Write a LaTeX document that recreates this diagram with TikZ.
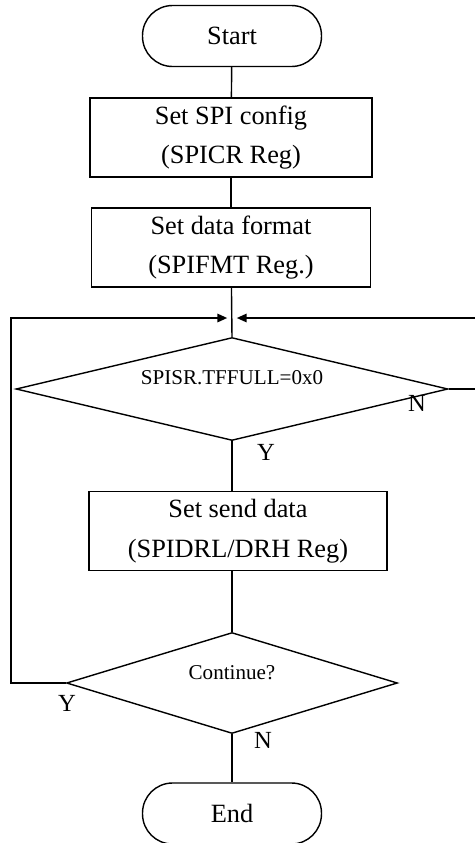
\documentclass[tikz,border=0pt]{standalone}
\usepackage{fontspec}
\setmainfont{Liberation Serif}
\usetikzlibrary{shapes.geometric,arrows.meta}

\begin{document}
\begin{tikzpicture}[x=0.02cm, y=-0.02cm,
    every node/.style={font=\fontsize{15}{22.7}\selectfont},
    termbox/.style={draw, line width=0.8pt, rounded corners=0.6cm, minimum width=3.58cm, minimum height=1.22cm, inner sep=0pt},
    procbox/.style={draw, line width=0.8pt, align=center, minimum height=1.58cm, inner sep=0pt},
    decbox/.style={draw, line width=0.8pt, diamond, inner sep=0pt},
    dectext/.style={font=\fontsize{12}{14}\selectfont, inner sep=0pt},
    tag/.style={font=\fontsize{14}{16}\selectfont, inner sep=0pt},
    flow/.style={line width=0.8pt},
    backline/.style={line width=1.4pt, -{Triangle[length=5.7pt,width=4.6pt]}}]
    \clip (0,0) rectangle (475,843);

    \node[termbox] (start) at (232,36) {Start};
    \node[procbox, minimum width=5.64cm] (cfg) at (231,137.5) {Set SPI config\\(SPICR Reg)};
    \node[procbox, minimum width=5.58cm] (fmt) at (231,247.5) {Set data format\\(SPIFMT Reg.)};
    \coordinate (join) at (232,318);
    \node[decbox, minimum width=8.64cm, minimum height=2.06cm] (full) at (232,389) {};
    \node[dectext] (fulltxt) at (232,378) {SPISR.TFFULL=0x0};
    \node[procbox, minimum width=5.96cm] (send) at (238,531) {Set send data\\(SPIDRL/DRH Reg)};
    \node[decbox, minimum width=6.62cm, minimum height=2.02cm] (more) at (232,683) {};
    \node[dectext] (moretxt) at (232,673) {Continue?};
    \node[termbox] (end) at (232,813.5) {End};

    \draw[flow] (start) -- (cfg); \draw[flow] (cfg) -- (fmt); \draw[flow] (fmt) -- (full.north);
    \draw[flow] (full.south) -- (full.south |- send.north);
    \draw[flow] (send.south -| more.north) -- (more.north);
    \draw[flow] (more.south) -- (end.north);

    % loop back from both decisions
    \coordinate (rgt) at (490,389); \coordinate (lft) at (11,683);
    \draw[backline, shorten >=2.6pt] (full.east) -- (rgt) |- (join);
    \draw[backline, shorten >=2.6pt] (more.west) -- (lft) |- (join);

    \node[tag] (fullN) at (417,403) {N}; \node[tag] (fullY) at (266,452) {Y};
    \node[tag] (moreY) at (67,703) {Y}; \node[tag] (moreN) at (263,740) {N};
\end{tikzpicture}
\end{document}
